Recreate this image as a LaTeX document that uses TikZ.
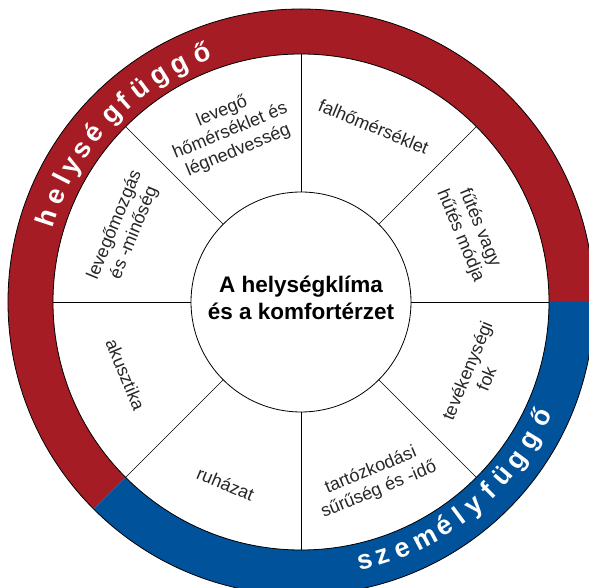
\documentclass[tikz,border=0pt]{standalone}
\usepackage{fontspec}
\setmainfont{Liberation Sans}
\definecolor{ringred}{RGB}{165,28,36}
\definecolor{ringblue}{RGB}{0,82,155}

\begin{document}
\begin{tikzpicture}
	\tikzstyle{sector}=[align=center,text=black!85,font=\fontsize{18}{21}\selectfont,inner sep=0pt]
	\tikzstyle{spoke}=[line width=0.7pt]
	\tikzstyle{ringletter}=[text=white,font=\bfseries\fontsize{27}{27}\selectfont,inner sep=0pt,anchor=base]
	
	\useasboundingbox (-301pt,-286pt) rectangle (288pt,302pt);
	\clip (-301pt,-286pt) rectangle (288pt,302pt);
	
	\fill[ringred] (0:293pt) arc[start angle=0,end angle=225,radius=293pt] -- (225:248pt) arc[start angle=225,end angle=0,radius=248pt] -- cycle;
	\fill[ringblue] (225:293pt) arc[start angle=225,end angle=360,radius=293pt] -- (0:248pt) arc[start angle=360,end angle=225,radius=248pt] -- cycle;
	\draw[line width=0.8pt] (0,0) circle[radius=293pt];
	\draw[line width=0.8pt] (0,0) circle[radius=248pt];
	
	\node[circle,draw,line width=0.8pt,minimum size=220pt,inner sep=0pt,outer sep=0pt] (core) at (0,0) {};
	\node[align=center,font=\bfseries\fontsize{22.5}{27}\selectfont,inner sep=0pt] (title) at (0,4.5pt) {A helységklíma\\és a komfortérzet};
	
	\coordinate (w0) at (0:248pt);
	\coordinate (w45) at (45:248pt);
	\coordinate (w90) at (90:248pt);
	\coordinate (w135) at (135:248pt);
	\coordinate (w180) at (180:248pt);
	\coordinate (w225) at (225:248pt);
	\coordinate (w270) at (270:248pt);
	\coordinate (w315) at (315:248pt);
	
	\draw[spoke] (core.0) -- (w0);
	\draw[spoke] (core.45) -- (w45);
	\draw[spoke] (core.90) -- (w90);
	\draw[spoke] (core.135) -- (w135);
	\draw[spoke] (core.180) -- (w180);
	\draw[spoke] (core.225) -- (w225);
	\draw[spoke] (core.270) -- (w270);
	\draw[spoke] (core.315) -- (w315);
	
	\node[sector,rotate=22.5] (air) at (112.5:185pt) {levegő\\hőmérséklet és\\légnedvesség};
	\node[sector,rotate=-22.5] (wall) at (67.5:190pt) {falhőmérséklet};
	\node[sector,rotate=-67.5] (heat) at (22.5:183pt) {fűtés vagy\\hűtés módja};
	\node[sector,rotate=67.5] (activity) at (-22.5:190pt) {tevékenységi\\fok};
	\node[sector,rotate=22.5] (occupancy) at (-67.5:193pt) {tartózkodási\\sűrűség és -idő};
	\node[sector,rotate=-22.5] (clothing) at (-112.5:197pt) {ruházat};
	\node[sector,rotate=-67.5] (acoustics) at (-157.5:190pt) {akusztika};
	\node[sector,rotate=67.5] (airflow) at (157.5:191pt) {levegőmozgás\\és -minőség};
	
	\node[ringletter,rotate=71.8] (h1) at (161.8:259pt) {h};
	\node[ringletter,rotate=66.7] (h2) at (156.7:259pt) {e};
	\node[ringletter,rotate=62.8] (h3) at (152.8:259pt) {l};
	\node[ringletter,rotate=59.3] (h4) at (149.3:259pt) {y};
	\node[ringletter,rotate=55.2] (h5) at (145.2:259pt) {s};
	\node[ringletter,rotate=50.9] (h6) at (140.9:259pt) {é};
	\node[ringletter,rotate=45.3] (h7) at (135.3:259pt) {g};
	\node[ringletter,rotate=41.5] (h8) at (131.5:259pt) {f};
	\node[ringletter,rotate=37.1] (h9) at (127.1:259pt) {ü};
	\node[ringletter,rotate=32.1] (h10) at (122.1:259pt) {g};
	\node[ringletter,rotate=27.1] (h11) at (117.1:259pt) {g};
	\node[ringletter,rotate=21.8] (h12) at (111.8:259pt) {ő};
	
	\node[ringletter,rotate=13.8] (p1) at (-76.2:275pt) {s};
	\node[ringletter,rotate=17.8] (p2) at (-72.2:275pt) {z};
	\node[ringletter,rotate=22.4] (p3) at (-67.6:275pt) {e};
	\node[ringletter,rotate=27.7] (p4) at (-62.3:275pt) {m};
	\node[ringletter,rotate=32.6] (p5) at (-57.4:275pt) {é};
	\node[ringletter,rotate=36.5] (p6) at (-53.5:275pt) {l};
	\node[ringletter,rotate=40.3] (p7) at (-49.7:275pt) {y};
	\node[ringletter,rotate=44.7] (p8) at (-45.3:275pt) {f};
	\node[ringletter,rotate=49.2] (p9) at (-40.8:275pt) {ü};
	\node[ringletter,rotate=53.8] (p10) at (-36.2:275pt) {g};
	\node[ringletter,rotate=58.9] (p11) at (-31.1:275pt) {g};
	\node[ringletter,rotate=64.4] (p12) at (-25.6:275pt) {ő};
\end{tikzpicture}
\end{document}
